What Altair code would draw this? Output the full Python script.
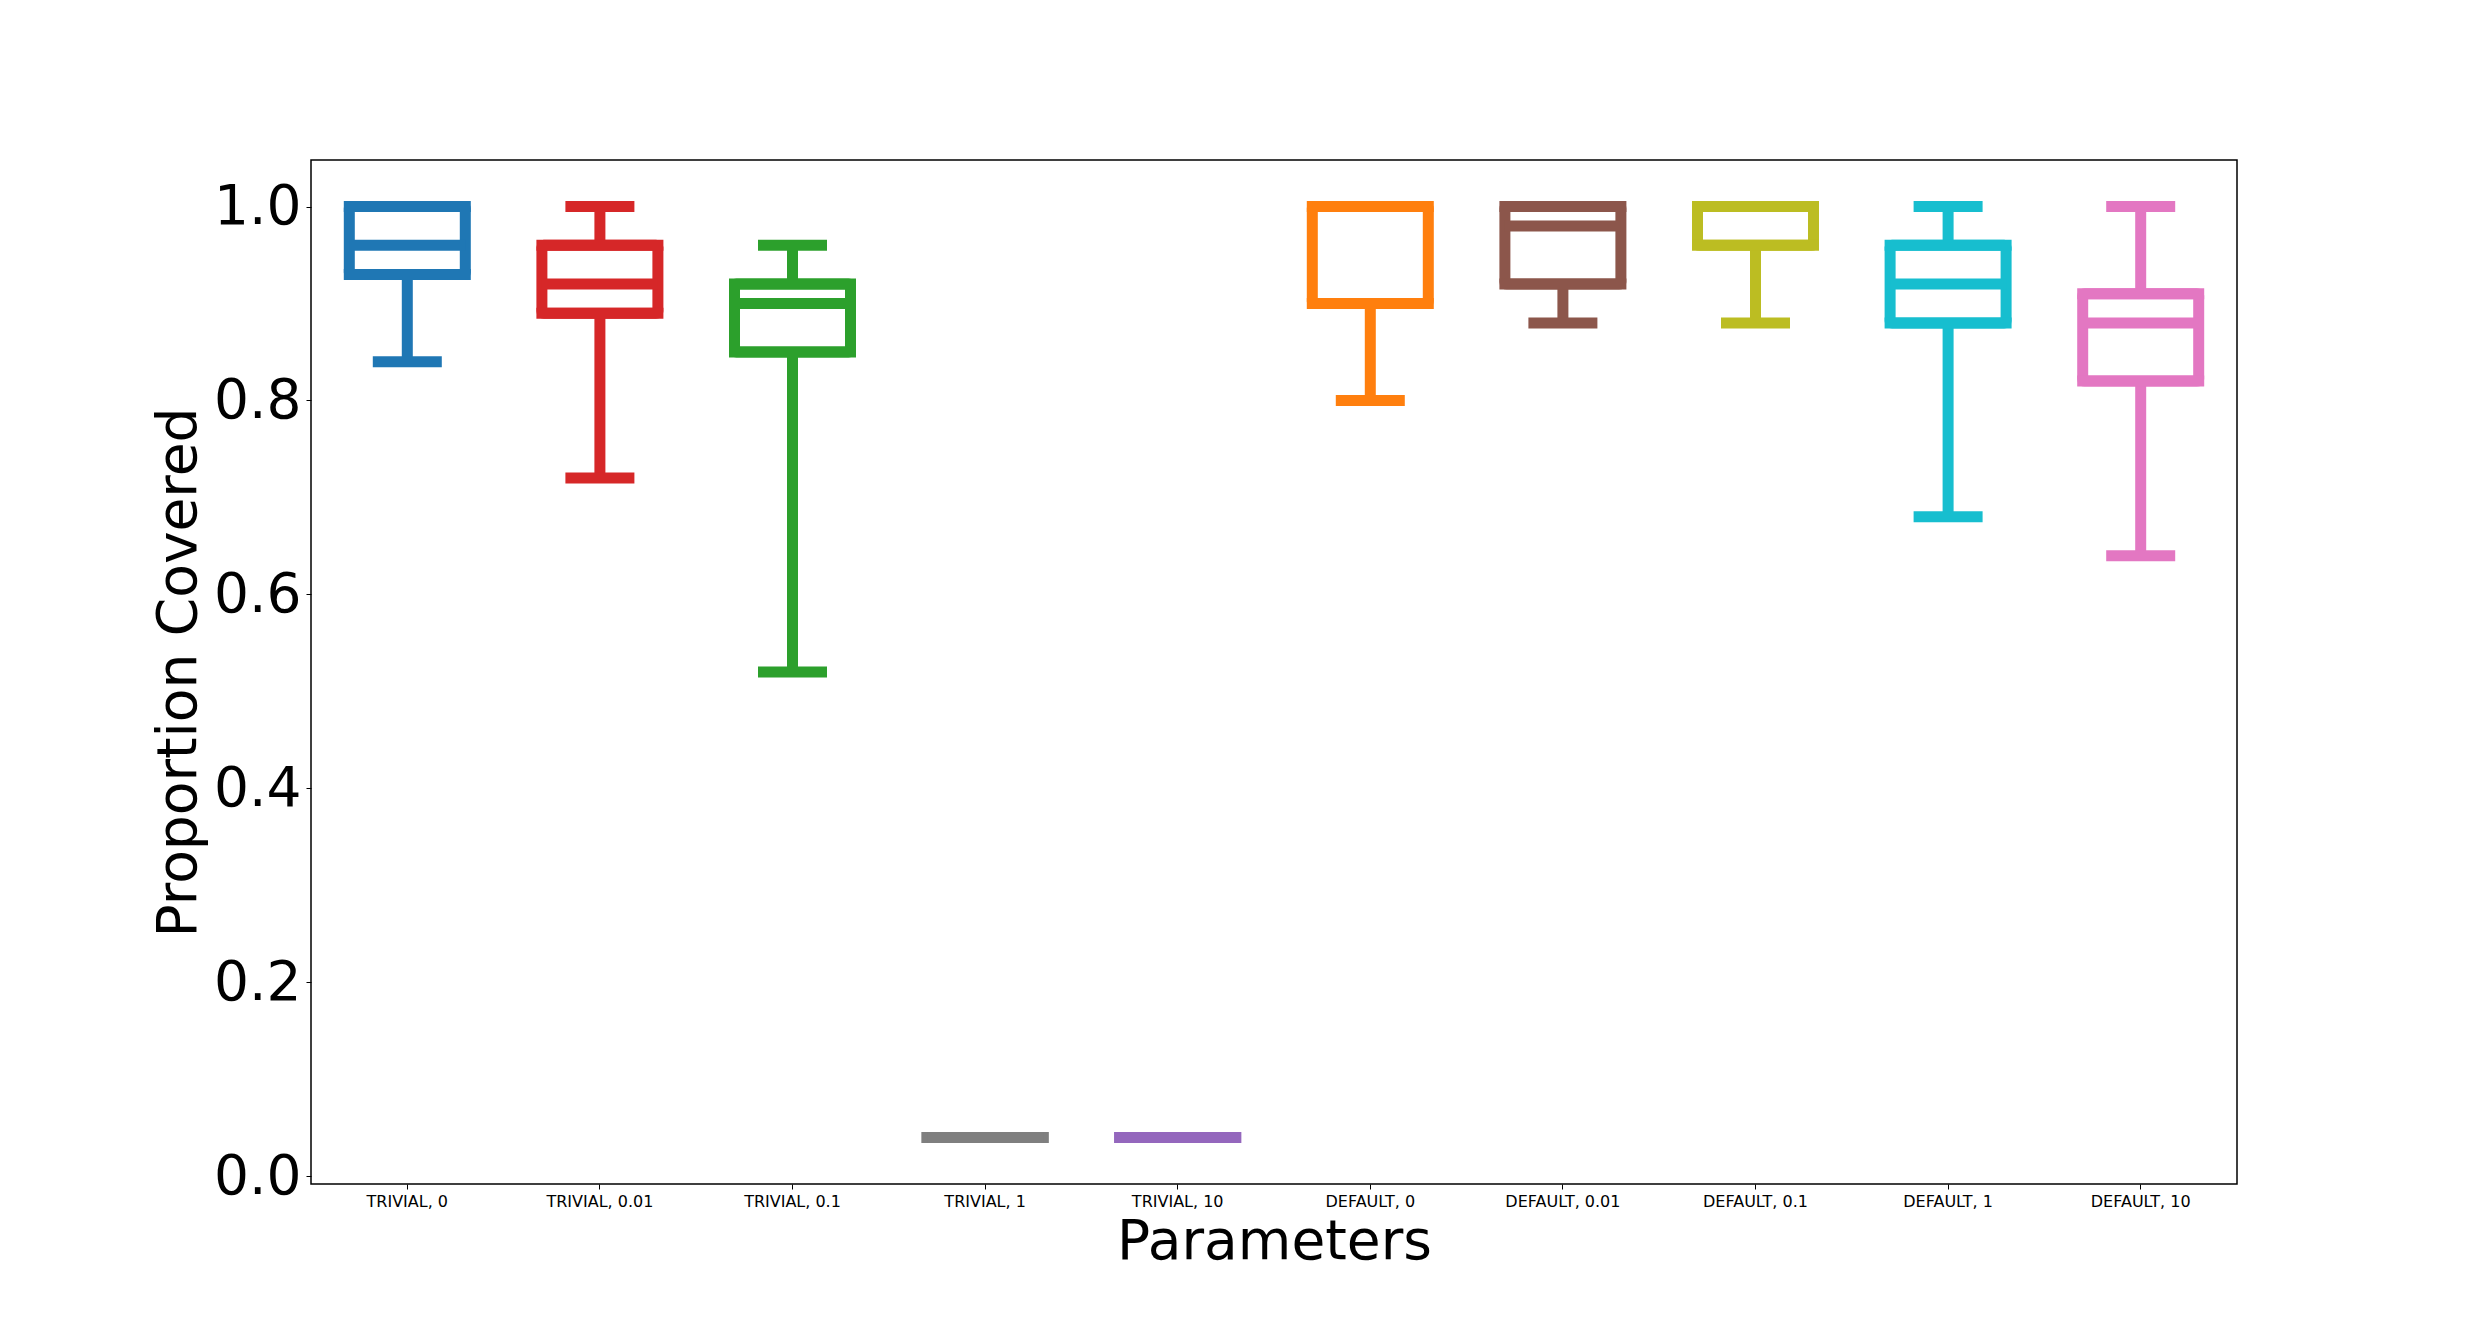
import altair as alt
import pandas as pd

categories = ["TRIVIAL, 0", "TRIVIAL, 0.01", "TRIVIAL, 0.1", "TRIVIAL, 1", "TRIVIAL, 10",
              "DEFAULT, 0", "DEFAULT, 0.01", "DEFAULT, 0.1", "DEFAULT, 1", "DEFAULT, 10"]
whisker_low = [0.84, 0.72, 0.52, 0.04, 0.04, 0.80, 0.88, 0.88, 0.68, 0.64]
q1 = [0.93, 0.89, 0.85, 0.04, 0.04, 0.90, 0.92, 0.96, 0.88, 0.82]
median = [0.96, 0.92, 0.90, 0.04, 0.04, 1.00, 0.98, 1.00, 0.92, 0.88]
q3 = [1.00, 0.96, 0.92, 0.04, 0.04, 1.00, 1.00, 1.00, 0.96, 0.91]
whisker_high = [1.00, 1.00, 0.96, 0.04, 0.04, 1.00, 1.00, 1.00, 1.00, 1.00]
colors = ["#1f77b4", "#d62728", "#2ca02c", "#7f7f7f", "#9467bd",
          "#ff7f0e", "#8c564b", "#bcbd22", "#17becf", "#e377c2"]

df = pd.DataFrame({
    "param": categories,
    "wlo": whisker_low,
    "q1": q1,
    "med": median,
    "q3": q3,
    "whi": whisker_high,
})

W, H = 1926, 1024
LW = 11
BOX_W = 116

x_enc = alt.X("param:N", sort=categories,
              scale=alt.Scale(type="band", paddingInner=0, paddingOuter=0),
              axis=alt.Axis(title="Parameters", labelAngle=0, labelFontSize=16,
                            labelFont="DejaVu Sans", labelColor="black",
                            tickSize=5, tickColor="black", labelPadding=4,
                            domain=False, titleFontSize=55, titleFont="DejaVu Sans",
                            titleFontWeight="normal", titleColor="black",
                            titleX=W / 2, titleY=57, titleBaseline="middle",
                            titleAlign="center"))
y_scale = alt.Scale(domain=[-0.008, 1.048], nice=False, zero=False)
color_enc = alt.Color("param:N", scale=alt.Scale(domain=categories, range=colors), legend=None)

base = alt.Chart(df)

lower_whisker = base.mark_rule(strokeWidth=LW).encode(
    x=x_enc,
    y=alt.Y("wlo:Q", scale=y_scale,
            axis=alt.Axis(title="Proportion Covered", values=[0, 0.2, 0.4, 0.6, 0.8, 1.0],
                          format=".1f", labelFontSize=55, labelFont="DejaVu Sans",
                          labelColor="black", tickSize=5, tickColor="black",
                          labelPadding=5, domain=False, grid=False,
                          titleFontSize=55, titleFont="DejaVu Sans",
                          titleFontWeight="normal", titleColor="black",
                          titleAngle=270, titleX=-133, titleY=H / 2,
                          titleAlign="center", titleBaseline="middle")),
    y2="q1:Q",
    color=color_enc,
)
upper_whisker = base.mark_rule(strokeWidth=LW).encode(
    x=x_enc, y=alt.Y("q3:Q", scale=y_scale), y2="whi:Q", color=color_enc)

low_cap = base.mark_tick(thickness=LW, size=69, opacity=1).encode(
    x=x_enc, y=alt.Y("wlo:Q", scale=y_scale), color=color_enc)
high_cap = base.mark_tick(thickness=LW, size=69, opacity=1).encode(
    x=x_enc, y=alt.Y("whi:Q", scale=y_scale), color=color_enc)

box = base.mark_bar(filled=False, strokeWidth=LW, size=BOX_W, fill=None, cornerRadius=2).encode(
    x=x_enc, y=alt.Y("q1:Q", scale=y_scale), y2="q3:Q",
    stroke=alt.Stroke("param:N", scale=alt.Scale(domain=categories, range=colors), legend=None))

box_bottom = base.mark_tick(thickness=LW, size=BOX_W + LW, opacity=1).encode(
    x=x_enc, y=alt.Y("q1:Q", scale=y_scale), color=color_enc)
box_top = base.mark_tick(thickness=LW, size=BOX_W + LW, opacity=1).encode(
    x=x_enc, y=alt.Y("q3:Q", scale=y_scale), color=color_enc)

med = base.mark_tick(thickness=LW, size=BOX_W, opacity=1).encode(
    x=x_enc, y=alt.Y("med:Q", scale=y_scale), color=color_enc)

chart = alt.layer(lower_whisker, upper_whisker, low_cap, high_cap, box,
                  box_bottom, box_top, med).properties(
    width=W, height=H,
    background="white",
    autosize=alt.AutoSizeParams(type="none"),
    padding={"left": 311, "top": 160, "right": 249, "bottom": 146},
).configure_view(stroke="black", strokeWidth=1.5)

chart.save("out.html", embed_options={"renderer": "svg", "actions": False})
